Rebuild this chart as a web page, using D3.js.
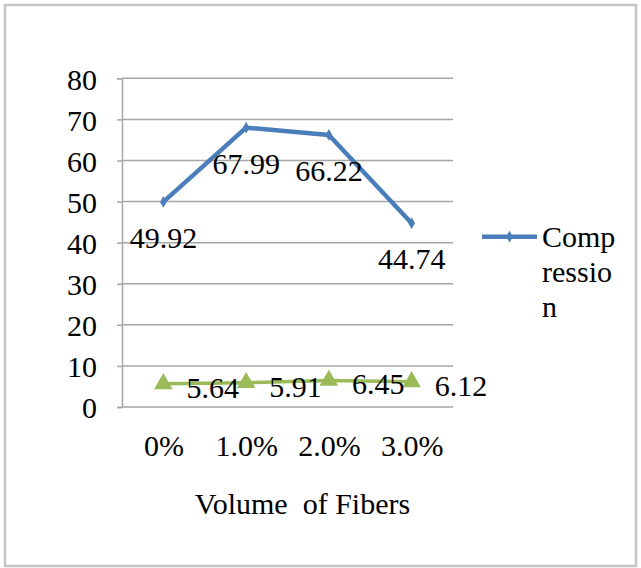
<!DOCTYPE html>
<html>
<head>
<meta charset="utf-8">
<script src="https://cdn.jsdelivr.net/npm/d3@7"></script>
<style>
  html, body { margin: 0; padding: 0; background: #fff; }
  svg { display: block; }
  text { font-family: "Liberation Serif", "Times New Roman", serif; fill: #000; }
</style>
</head>
<body>
<svg id="chart" width="641" height="568"></svg>
<script>
// Fiber volume fractions and measured strengths (MPa)
const categories = ["0%", "1.0%", "2.0%", "3.0%"];
const compression = [49.92, 67.99, 66.22, 44.74];
const tensile = [5.64, 5.91, 6.45, 6.12];
const yTicks = [0, 10, 20, 30, 40, 50, 60, 70, 80];
const legendLines = ["Comp", "ressio", "n"];
const xTitle = "Volume  of Fibers";

const svg = d3.select("#chart");
const W = 641, H = 568;
const plot = { left: 122, right: 453, top: 78.3, bottom: 407 };
const FS = 30;

// frame around the whole chart
svg.append("rect")
  .attr("x", 5).attr("y", 5).attr("width", W - 10).attr("height", H - 7)
  .attr("fill", "#fff").attr("stroke", "#c4c4c4").attr("stroke-width", 2.5);

const x = d3.scalePoint().domain(categories).range([plot.left, plot.right]).padding(0.5);
const y = d3.scaleLinear().domain([0, 80]).range([plot.bottom, plot.top]);

// horizontal gridlines
svg.append("g").selectAll("line").data(yTicks.filter(d => d > 0)).join("line")
  .attr("x1", plot.left).attr("x2", plot.right)
  .attr("y1", d => y(d)).attr("y2", d => y(d))
  .attr("stroke", "#a6a6a6").attr("stroke-width", 1.5);

// y axis
const yAxis = svg.append("g").attr("transform", `translate(${plot.left},0)`)
  .call(d3.axisLeft(y).tickValues(yTicks).tickSize(5).tickPadding(20));
yAxis.select(".domain").attr("stroke", "#a6a6a6").attr("stroke-width", 1.5);
yAxis.selectAll(".tick line").attr("stroke", "#a6a6a6").attr("stroke-width", 1.5);
yAxis.selectAll(".tick text").attr("font-size", FS)
  .attr("font-family", "Liberation Serif").attr("fill", "#000").attr("dy", "0.36em");

// x axis
const xAxis = svg.append("g").attr("transform", `translate(0,${plot.bottom})`)
  .call(d3.axisBottom(x).tickSize(0).tickPadding(28));
xAxis.select(".domain").attr("stroke", "#a6a6a6").attr("stroke-width", 1.5)
  .attr("d", `M${plot.left},0H${plot.right}`);
xAxis.selectAll(".tick text").attr("font-size", FS)
  .attr("font-family", "Liberation Serif").attr("fill", "#000");

// x axis title
svg.append("text")
  .attr("x", (plot.left + plot.right) / 2 + 15).attr("y", 514)
  .attr("text-anchor", "middle").attr("font-size", FS)
  .style("white-space", "pre").text(xTitle);

const line = d3.line().x((d, i) => x(categories[i])).y(d => y(d));

const blue = "#4a7ebb", green = "#9bbb59";

// compression series
svg.append("path").datum(compression)
  .attr("d", line).attr("fill", "none")
  .attr("stroke", blue).attr("stroke-width", 4.5).attr("stroke-linejoin", "round");
const diamond = d3.symbol().type(d3.symbolDiamond).size(40);
svg.append("g").selectAll("path").data(compression).join("path")
  .attr("d", diamond)
  .attr("transform", (d, i) => `translate(${x(categories[i])},${y(d)})`)
  .attr("fill", blue);
svg.append("g").selectAll("text").data(compression).join("text")
  .attr("x", (d, i) => x(categories[i]))
  .attr("y", d => y(d) + 46)
  .attr("text-anchor", "middle").attr("font-size", FS)
  .text(d => d.toFixed(2));

// tensile series
svg.append("path").datum(tensile)
  .attr("d", line).attr("fill", "none")
  .attr("stroke", green).attr("stroke-width", 3.5);
const tri = d3.symbol().type(d3.symbolTriangle).size(150);
svg.append("g").selectAll("path").data(tensile).join("path")
  .attr("d", tri)
  .attr("transform", (d, i) => `translate(${x(categories[i])},${y(d)})`)
  .attr("fill", green);
svg.append("g").selectAll("text").data(tensile).join("text")
  .attr("x", (d, i) => x(categories[i]) + 23)
  .attr("y", d => y(d) + 14)
  .attr("text-anchor", "start").attr("font-size", FS)
  .text(d => d.toFixed(2));

// legend
const lg = svg.append("g");
lg.append("line")
  .attr("x1", 482).attr("x2", 537).attr("y1", 236.7).attr("y2", 236.7)
  .attr("stroke", blue).attr("stroke-width", 4.5);
lg.append("path").attr("d", diamond).attr("transform", "translate(509.5,236.7)").attr("fill", blue);
lg.append("text").attr("x", 542).attr("font-size", FS)
  .selectAll("tspan").data(legendLines).join("tspan")
  .attr("x", 542).attr("y", (d, i) => 246.7 + i * 35)
  .text(d => d);
</script>
</body>
</html>
